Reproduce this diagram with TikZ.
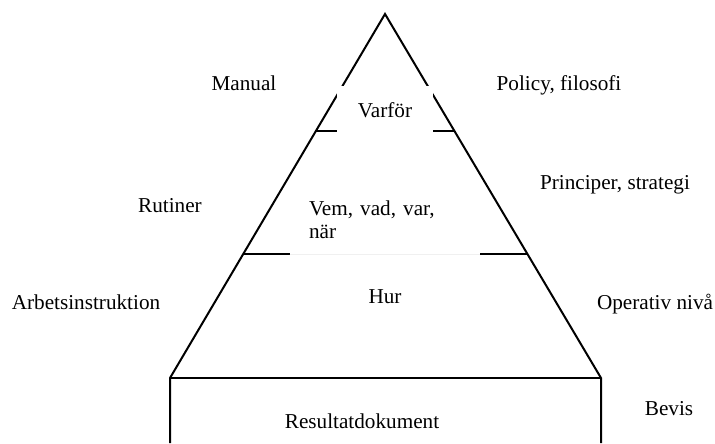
\documentclass[tikz,border=0pt]{standalone}
\usepackage{fontspec}
\setmainfont{Liberation Serif}
\usetikzlibrary{calc}
\tikzset{
  edge/.style={draw=black,line width=1pt},
  lbl/.style={inner sep=0pt,anchor=base,font=\fontsize{10.6}{11.5}\selectfont},
  tier/.style={fill=white,inner sep=0pt,font=\fontsize{10.6}{11.5}\selectfont}
}

\begin{document}
\begin{tikzpicture}[x=0.5pt,y=-0.5pt]
\useasboundingbox (0,0) rectangle (715,443);
\coordinate (top) at (385,14);
\coordinate (bl)  at (170,378);
\coordinate (br)  at (601,378);
\coordinate (bl2) at (170,443);
\coordinate (br2) at (601,443);
\coordinate (m1l) at ($(top)!0.3214!(bl)$);
\coordinate (m1r) at ($(top)!0.3214!(br)$);
\coordinate (m2l) at ($(top)!0.6593!(bl)$);
\coordinate (m2r) at ($(top)!0.6593!(br)$);

% pyramid and base box
\draw[edge] (bl2) -- (bl) -- (top) -- (br) -- (br2);
\draw[edge] (bl) -- (br);
\draw[edge] (m1l) -- (m1r);
\draw[edge] (m2l) -- (m2r);

% levels inside
\node[tier, minimum width=48pt, minimum height=24.5pt] (why) at (385,110.5) {Varför};
\node[tier, minimum height=34.5pt, text width=76pt,
      inner xsep=9.5pt, align=left] (who) at (385,219.5) {Vem, vad, var,\\när};
\draw[black!6, line width=0.5pt] (who.south west) -- (who.south east);
\node[lbl] (how) at (385,303) {Hur};
\node[lbl] (res) at (362,428) {Resultatdokument};

% left side
\node[lbl] (manual) at (244,91)  {Manual};
\node[lbl] (rutin)  at (170,212) {Rutiner};
\node[lbl] (arbet)  at (86,309)  {Arbetsinstruktion};

% right side
\node[lbl] (policy) at (559,91)  {Policy, filosofi};
\node[lbl] (princ)  at (615,189) {Principer, strategi};
\node[lbl] (oper)   at (655,309) {Operativ nivå};
\node[lbl] (bevis)  at (669,415) {Bevis};
\end{tikzpicture}
\end{document}
